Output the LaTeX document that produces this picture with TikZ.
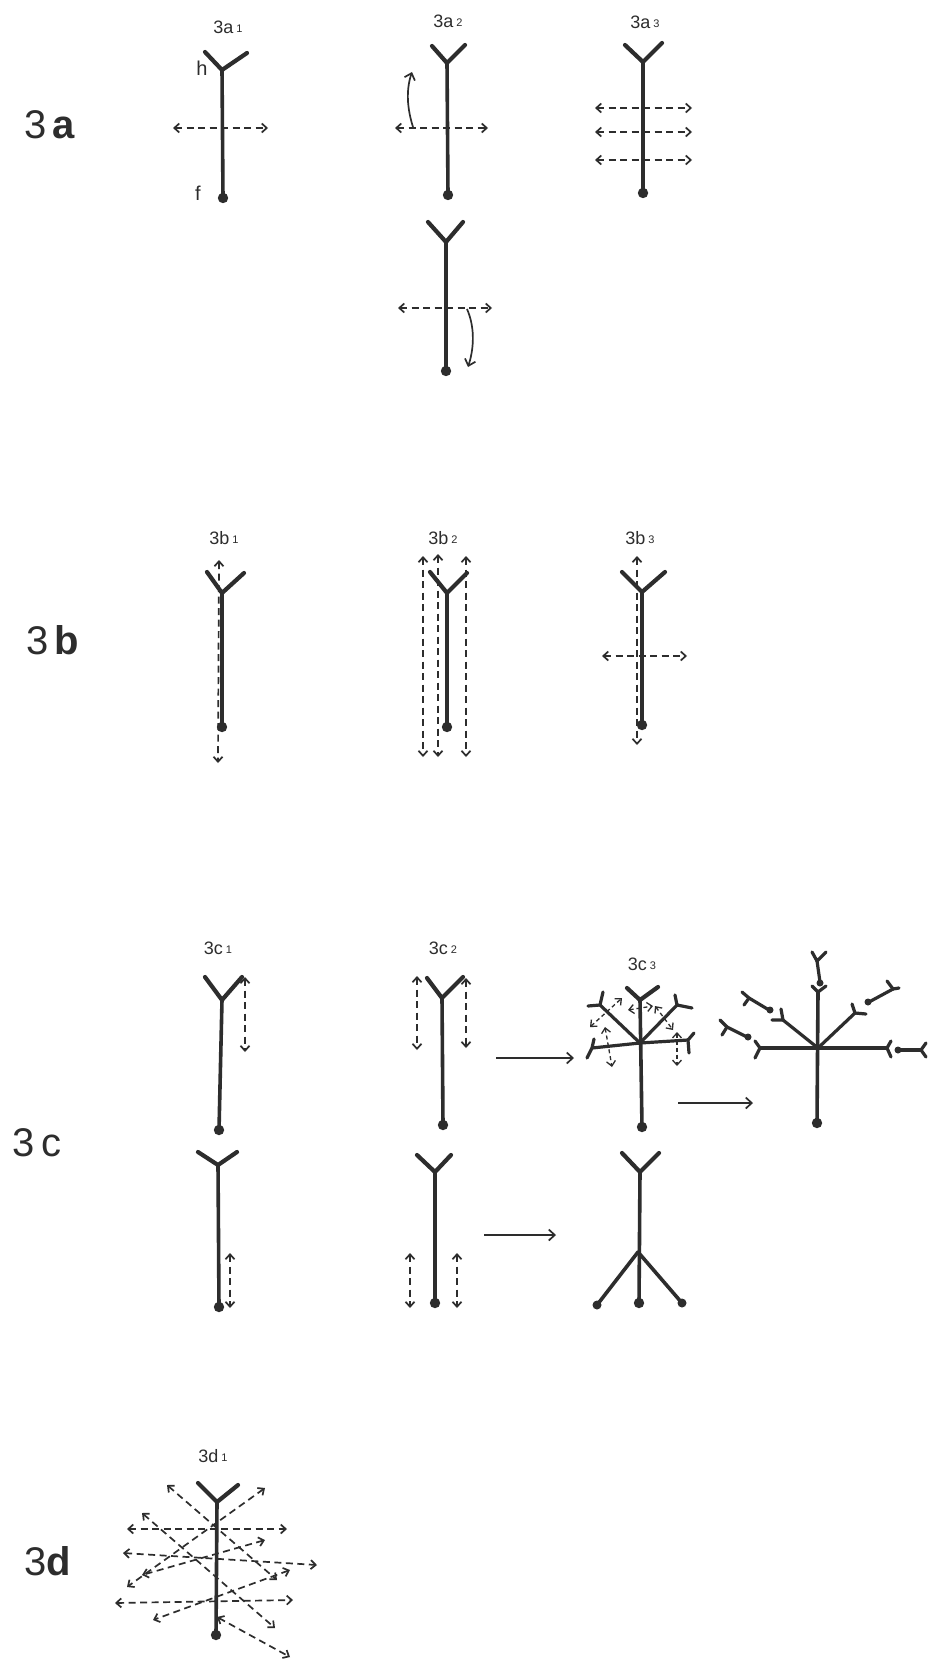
\documentclass[tikz,border=0pt]{standalone}
\usepackage{fontspec}
\setmainfont{Liberation Sans}
\usetikzlibrary{arrows.meta}
\definecolor{ink}{RGB}{45,45,45}
\tikzset{
 stemline/.style={ink, line width=3.6pt, line cap=round},
 forkline/.style={ink, line width=4.2pt, line cap=round, line join=round},
 twig/.style={ink, line width=3.2pt, line cap=round, line join=round},
 darr/.style={ink, line width=1.7pt, dash pattern=on 7pt off 4.5pt, {Straight Barb[length=5pt,width=9pt]}-{Straight Barb[length=5pt,width=9pt]}},
 sarr/.style={ink, line width=1.7pt, -{Straight Barb[length=6pt,width=11pt]}},
 biglab/.style={font=\fontsize{40}{40}\selectfont, text=ink, inner sep=0pt},
 sublab/.style={font=\fontsize{18}{18}\selectfont, text=ink, inner sep=0pt},
}
\newcommand{\labsub}[2]{#1\hspace{3pt}\raisebox{1pt}{\fontsize{11}{11}\selectfont #2}}
% name, junction x,y, foot x,y, left tip x,y, right tip x,y
\newcommand{\stick}[9]{%
 \coordinate (#1j) at (#2,#3);
 \coordinate (#1f) at (#4,#5);
 \coordinate (#1l) at (#6,#7);
 \coordinate (#1r) at (#8,#9);
 \draw[stemline] (#1j) -- (#1f);
 \draw[forkline] (#1l) -- (#1j) -- (#1r);
 \fill[ink] (#1f) circle (5.2);
}
\begin{document}
\begin{tikzpicture}[x=1pt,y=-1pt]
\useasboundingbox (0,0) rectangle (929,1664);
\fill[white] (0,0) rectangle (929,1664);

% ---------- row labels
\node[biglab] (L3a) at (50,125) {3\hspace{6pt}\textbf{a}};
\node[biglab] (L3b) at (53,640) {3\hspace{6pt}\textbf{b}};
\node[biglab] (L3c) at (37,1143) {3\hspace{6pt}c};
\node[biglab] (L3d) at (48,1561) {3\textbf{d}};

% ---------- 3a
\node[sublab] (t3a1) at (228,27) {\labsub{3a}{1}};
\node[sublab] (t3a2) at (448,21) {\labsub{3a}{2}};
\node[sublab] (t3a3) at (645,22) {\labsub{3a}{3}};
\node[font=\fontsize{20}{20}\selectfont, text=ink, inner sep=0pt] (hlab) at (202,68) {h};
\node[font=\fontsize{20}{20}\selectfont, text=ink, inner sep=0pt] (flab) at (198,193) {f};

\stick{a1}{222}{70}{223}{198}{205}{52}{247}{53}
\coordinate (a1L) at (173,128); \coordinate (a1R) at (268,128);
\draw[darr] (a1L) -- (a1R);

\stick{a2}{447}{63}{448}{195}{432}{46}{465}{45}
\coordinate (a2L) at (395,128); \coordinate (a2R) at (488,128);
\draw[darr] (a2L) -- (a2R);
\coordinate (a2c0) at (413,127); \coordinate (a2c1) at (412,72);
\draw[sarr] (a2c0) .. controls (407,108) and (406,90) .. (a2c1);

\stick{a3}{643}{62}{643}{193}{625}{45}{662}{43}
\coordinate (a3L1) at (595,108); \coordinate (a3R1) at (692,108);
\coordinate (a3L2) at (595,132); \coordinate (a3R2) at (692,132);
\coordinate (a3L3) at (595,160); \coordinate (a3R3) at (692,160);
\draw[darr] (a3L1) -- (a3R1);
\draw[darr] (a3L2) -- (a3R2);
\draw[darr] (a3L3) -- (a3R3);

\stick{a4}{446}{242}{446}{371}{428}{222}{463}{222}
\coordinate (a4L) at (398,308); \coordinate (a4R) at (492,308);
\draw[darr] (a4L) -- (a4R);
\coordinate (a4c0) at (467,309); \coordinate (a4c1) at (468,367);
\draw[sarr] (a4c0) .. controls (474,325) and (475,345) .. (a4c1);

% ---------- 3b
\node[sublab] (t3b1) at (224,538) {\labsub{3b}{1}};
\node[sublab] (t3b2) at (443,538) {\labsub{3b}{2}};
\node[sublab] (t3b3) at (640,538) {\labsub{3b}{3}};

\stick{b1}{222}{593}{222}{727}{207}{572}{244}{573}
\coordinate (b1T) at (219,560); \coordinate (b1B) at (218,763);
\draw[darr] (b1T) -- (b1B);

\stick{b2}{447}{593}{447}{727}{430}{572}{467}{573}
\coordinate (b2T1) at (423,556); \coordinate (b2B1) at (423,757);
\coordinate (b2T2) at (438,554); \coordinate (b2B2) at (438,757);
\coordinate (b2T3) at (466,556); \coordinate (b2B3) at (466,757);
\draw[darr] (b2T1) -- (b2B1);
\draw[darr] (b2T2) -- (b2B2);
\draw[darr] (b2T3) -- (b2B3);

\stick{b3}{642}{592}{642}{725}{622}{572}{665}{572}
\coordinate (b3T) at (637,556); \coordinate (b3B) at (637,745);
\draw[darr] (b3T) -- (b3B);
\coordinate (b3L) at (602,656); \coordinate (b3R) at (687,656);
\draw[darr] (b3L) -- (b3R);

% ---------- 3c upper
\node[sublab] (t3c1) at (218,948) {\labsub{3c}{1}};
\node[sublab] (t3c2) at (443,948) {\labsub{3c}{2}};
\node[sublab] (t3c3) at (642,964) {\labsub{3c}{3}};

\stick{c1}{222}{1000}{219}{1130}{205}{977}{242}{977}
\coordinate (c1T) at (245,977); \coordinate (c1B) at (245,1052);
\draw[darr] (c1T) -- (c1B);

\stick{c2}{442}{998}{443}{1125}{427}{978}{463}{977}
\coordinate (c2T1) at (417,976); \coordinate (c2B1) at (417,1050);
\coordinate (c2T2) at (466,978); \coordinate (c2B2) at (466,1048);
\draw[darr] (c2T1) -- (c2B1);
\draw[darr] (c2T2) -- (c2B2);

\coordinate (c2to) at (496,1058); \coordinate (c3from) at (574,1058);
\draw[sarr] (c2to) -- (c3from);

% 3c3 branched
\stick{c3}{640}{1000}{642}{1127}{627}{988}{658}{987}
\coordinate (C3) at (640,1043);
\coordinate (c3ul) at (600,1005); \coordinate (c3ur) at (677,1005);
\coordinate (c3le) at (592,1048); \coordinate (c3ri) at (688,1040);
\draw[twig] (C3) -- (c3ul); \draw[twig] (C3) -- (c3ur);
\draw[twig] (C3) -- (c3le); \draw[twig] (C3) -- (c3ri);
\draw[twig] (588,1006) -- (c3ul) -- (603,992);
\draw[twig] (675,995) -- (c3ur) -- (692,1008);
\draw[twig] (594,1039) -- (c3le) -- (587,1058);
\draw[twig] (694,1033) -- (c3ri) -- (689,1053);
\draw[darr, line width=1.3pt, dash pattern=on 4pt off 3pt] (590,1027) -- (622,998);
\draw[darr, line width=1.3pt, dash pattern=on 4pt off 3pt] (605,1027) -- (612,1067);
\draw[darr, line width=1.3pt, dash pattern=on 4pt off 3pt] (628,1010) -- (653,1006);
\draw[darr, line width=1.3pt, dash pattern=on 4pt off 3pt] (655,1006) -- (673,1030);
\draw[darr, line width=1.3pt, dash pattern=on 4pt off 3pt] (677,1032) -- (677,1066);

\coordinate (c3to) at (678,1103); \coordinate (c4from) at (753,1103);
\draw[sarr] (c3to) -- (c4from);

% 3c4
\coordinate (C4) at (818,1048);
\coordinate (c4top) at (818,992); \coordinate (c4f) at (817,1123);
\draw[stemline] (c4top) -- (c4f);
\fill[ink] (c4f) circle (5.2);
\draw[twig] (812,986) -- (c4top) -- (826,986);
\coordinate (c4ul) at (783,1020); \coordinate (c4ur) at (855,1013);
\coordinate (c4le) at (760,1048); \coordinate (c4ri) at (887,1048);
\draw[twig] (C4) -- (c4ul); \draw[twig] (C4) -- (c4ur);
\draw[twig] (C4) -- (c4le); \draw[twig] (C4) -- (c4ri);
\draw[twig] (772,1020) -- (c4ul) -- (781,1009);
\draw[twig] (852,1004) -- (c4ur) -- (866,1014);
\draw[twig] (755,1041) -- (c4le) -- (755,1058);
\draw[twig] (891,1041) -- (c4ri) -- (891,1057);
% detached twigs
\draw[twig] (812,952) -- (817,961) -- (826,952); \draw[twig] (817,961) -- (820,982); \fill[ink] (820,983) circle (3.5);
\draw[twig] (742,992) -- (749,998) -- (744,1005); \draw[twig] (749,998) -- (769,1010); \fill[ink] (770,1010) circle (3.5);
\draw[twig] (720,1020) -- (727,1027) -- (722,1035); \draw[twig] (727,1027) -- (747,1037); \fill[ink] (748,1037) circle (3.5);
\draw[twig] (887,981) -- (893,989) -- (899,988); \draw[twig] (893,989) -- (869,1002); \fill[ink] (868,1002) circle (3.5);
\draw[twig] (926,1043) -- (921,1050) -- (926,1057); \draw[twig] (921,1050) -- (899,1050); \fill[ink] (898,1050) circle (3.5);

% ---------- 3c lower
\stick{c5}{218}{1165}{219}{1307}{198}{1152}{237}{1152}
\coordinate (c5T) at (230,1253); \coordinate (c5B) at (230,1308);
\draw[darr] (c5T) -- (c5B);

\stick{c6}{435}{1172}{435}{1303}{417}{1155}{451}{1155}
\coordinate (c6T1) at (410,1253); \coordinate (c6B1) at (410,1308);
\coordinate (c6T2) at (457,1253); \coordinate (c6B2) at (457,1308);
\draw[darr] (c6T1) -- (c6B1);
\draw[darr] (c6T2) -- (c6B2);

\coordinate (c6to) at (484,1235); \coordinate (c7from) at (556,1235);
\draw[sarr] (c6to) -- (c7from);

\stick{c7}{640}{1172}{639}{1303}{622}{1153}{659}{1153}
\coordinate (c7k) at (638,1252);
\coordinate (c7a) at (597,1305); \coordinate (c7b) at (682,1303);
\draw[stemline] (c7k) -- (c7a); \draw[stemline] (c7k) -- (c7b);
\fill[ink] (c7a) circle (4.5); \fill[ink] (c7b) circle (4.5);

% ---------- 3d
\node[sublab] (t3d1) at (213,1456) {\labsub{3d}{1}};
\stick{d1}{217}{1502}{216}{1635}{198}{1483}{238}{1485}
\draw[darr] (167,1485) -- (277,1580);
\draw[darr] (265,1488) -- (127,1587);
\draw[darr] (127,1529) -- (287,1529);
\draw[darr] (142,1513) -- (275,1628);
\draw[darr] (123,1553) -- (317,1565);
\draw[darr] (265,1540) -- (142,1575);
\draw[darr] (290,1570) -- (153,1620);
\draw[darr] (115,1603) -- (293,1600);
\draw[darr] (217,1617) -- (290,1657);
\end{tikzpicture}
\end{document}
